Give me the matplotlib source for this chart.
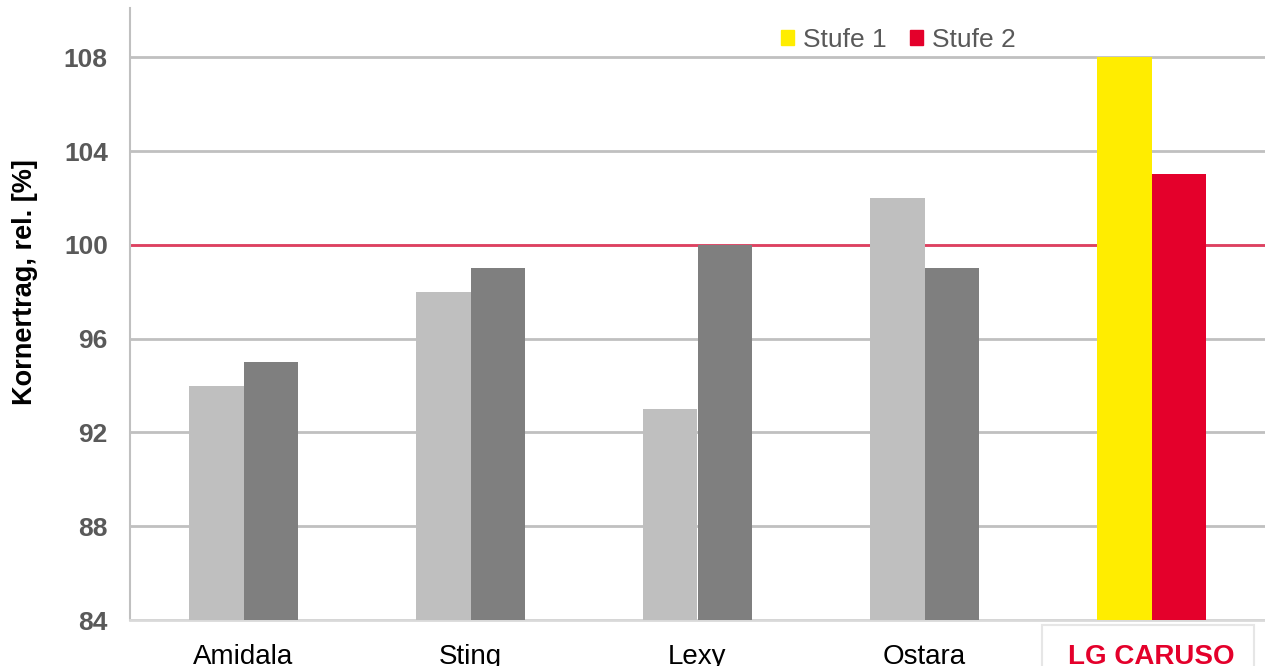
import matplotlib
matplotlib.use("Agg")
import matplotlib.pyplot as plt
import numpy as np
from matplotlib.patches import Patch, Rectangle

categories = ["Amidala", "Sting", "Lexy", "Ostara", "LG CARUSO"]
stufe1 = [94, 98, 93, 102, 108]
stufe2 = [95, 99, 100, 99, 103]
yticks = [84, 88, 92, 96, 100, 104, 108]

c1 = ["#bfbfbf"] * 4 + ["#ffed00"]
c2 = ["#7f7f7f"] * 4 + ["#e4002b"]

plt.rcParams['font.family'] = ['Liberation Sans', 'DejaVu Sans']
W, H = 1265, 666
fig = plt.figure(figsize=(W/100, H/100), dpi=100)
ax = fig.add_axes([130/W, 1-620/H, 1135/W, 612/H])

x = np.arange(len(categories))
w = 0.238
ax.bar(x - w/2, [v - 84 for v in stufe1], w, bottom=84, color=c1, zorder=3)
ax.bar(x + w/2, [v - 84 for v in stufe2], w, bottom=84, color=c2, zorder=3)

ax.set_xlim(-0.5, 4.5)
ax.set_ylim(84, 110.1)
ax.set_yticks(yticks)
ax.yaxis.grid(True, color="#c0c0c0", linewidth=2, zorder=0)
ax.axhline(100, color="#e04060", linewidth=2, zorder=2)
ax.tick_params(axis='y', length=0, labelsize=19, labelcolor="#595959", pad=16)
for t in ax.get_yticklabels():
    t.set_fontweight("bold")
ax.set_xticks(x)
ax.set_xticklabels(categories, fontsize=20, color="black")
ax.tick_params(axis='x', length=0, pad=17)
xl = ax.get_xticklabels()
xl[-1].set_color("#e4002b")
xl[-1].set_fontweight("bold")

box = Rectangle((1042/W, 1-670/H), 212/W, 45/H, transform=fig.transFigure,
                facecolor="none", edgecolor="#e6e6e6", linewidth=1.5, clip_on=False)
ax.add_artist(box)

for s in ["top", "right"]:
    ax.spines[s].set_visible(False)
ax.spines["left"].set_color("#c0c0c0")
ax.spines["left"].set_linewidth(1.5)
ax.spines["bottom"].set_color("#d9d9d9")
ax.spines["bottom"].set_linewidth(2)

ax.set_ylabel("Kornertrag, rel. [%]", fontsize=19.5, fontweight="bold")
ax.yaxis.set_label_coords((38 - 130)/1135, (620-282)/612)

handles = [Patch(color="#ffed00", label="Stufe 1"), Patch(color="#e4002b", label="Stufe 2")]
leg = ax.legend(handles=handles, loc="center", bbox_to_anchor=(0.677, 1 - (40-8)/612), ncol=2,
                frameon=False, fontsize=19, handlelength=0.5, handleheight=0.5,
                handletextpad=0.35, columnspacing=0.85)
for t in leg.get_texts():
    t.set_color("#595959")

fig.savefig("out.png", dpi=100)
